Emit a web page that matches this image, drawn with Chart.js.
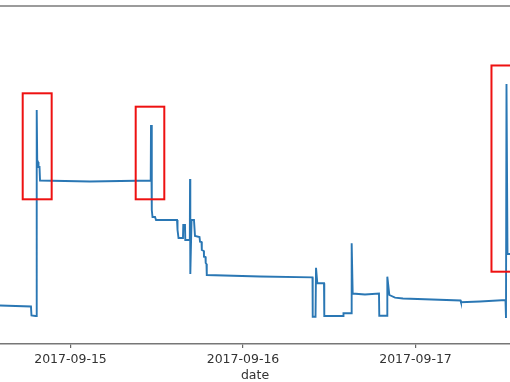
<!DOCTYPE html>
<html>
<head>
<meta charset="utf-8">
<script src="https://cdn.jsdelivr.net/npm/chart.js@4/dist/chart.umd.min.js"></script>
<style>
  html, body { margin: 0; padding: 0; background: #fff; }
  #wrap { width: 510px; height: 382px; }
</style>
</head>
<body>
<div id="wrap"><canvas id="c" width="510" height="382"></canvas></div>
<script>
// Tick labels (dates) and their positions in hours since 2017-09-15 00:00
const tickLabels = ['2017-09-15', '2017-09-16', '2017-09-17'];
const tickHours = [0, 24, 48];

// Series: time (hours since 2017-09-15 00:00) and value (arbitrary units)
const hours = [
  -9.81, -5.50, -5.43, -4.87, -4.73, -4.70, -4.63, -4.52, -4.45, -4.31,
  -4.24, 2.71, 11.16, 11.20, 11.31, 11.41, 11.76, 11.90, 14.82, 14.89,
  15.03, 15.65, 15.69, 15.93, 15.97, 16.60, 16.63, 16.67, 16.84, 17.18,
  17.32, 17.95, 18.02, 18.23, 18.27, 18.55, 18.57, 18.78, 18.81, 18.92,
  18.96, 26.37, 33.67, 33.70, 34.09, 34.16, 34.34, 35.27, 35.31, 37.96,
  37.98, 39.10, 39.12, 39.26, 40.97, 42.92, 42.96, 44.04, 44.08, 44.36,
  45.15, 46.26, 54.26, 54.33, 56.97, 60.52, 60.59, 60.66, 60.80, 61.43
];
const values = [
  11.39, 11.09, 8.43, 8.28, 8.28, 69.23, 54.44, 53.85, 52.37, 52.37,
  48.37, 48.08, 48.37, 64.79, 39.64, 37.57, 37.57, 36.69, 36.69, 33.73,
  31.36, 31.36, 35.21, 35.21, 30.77, 30.77, 48.82, 20.71, 36.69, 36.69,
  31.95, 31.66, 30.27, 30.18, 27.81, 27.51, 25.83, 25.74, 23.96, 23.67,
  20.41, 19.97, 19.73, 8.08, 8.08, 22.57, 17.96, 17.96, 8.28, 8.28,
  9.08, 9.08, 29.79, 14.94, 14.64, 14.94, 8.37, 8.37, 19.91, 14.50,
  13.70, 13.46, 12.87, 12.34, 12.57, 13.02, 7.69, 76.92, 26.63, 26.63
];

// Highlight boxes (data units)
const boxStart = [-6.65, 9.07, 58.57];
const boxEnd   = [-2.62, 13.05, 62.60];
const boxTop   = [74.17, 70.21, 82.40];
const boxBottom= [42.81, 42.81, 21.39];

const points = hours.map((h, i) => ({ x: h, y: values[i] }));

const framePlugin = {
  id: 'frame',
  afterDatasetsDraw(chart) {
    const { ctx, chartArea, scales } = chart;
    const xs = scales.x, ys = scales.y;
    ctx.save();
    // top spine
    ctx.strokeStyle = '#7a7a7a';
    ctx.lineWidth = 1.6;
    ctx.beginPath();
    ctx.moveTo(chartArea.left, chartArea.top);
    ctx.lineTo(chartArea.right, chartArea.top);
    ctx.stroke();
    // red boxes
    ctx.strokeStyle = '#ee1111';
    ctx.lineWidth = 2;
    for (let i = 0; i < boxStart.length; i++) {
      const x0 = xs.getPixelForValue(boxStart[i]);
      const x1 = xs.getPixelForValue(boxEnd[i]);
      const y0 = ys.getPixelForValue(boxTop[i]);
      const y1 = ys.getPixelForValue(boxBottom[i]);
      ctx.strokeRect(x0, y0, x1 - x0, y1 - y0);
    }
    ctx.restore();
  }
};

new Chart(document.getElementById('c'), {
  type: 'line',
  data: {
    datasets: [{
      data: points,
      borderColor: '#2a77b4',
      borderWidth: 1.9,
      pointRadius: 0,
      tension: 0,
      fill: false
    }]
  },
  options: {
    responsive: false,
    devicePixelRatio: 1,
    animation: false,
    events: [],
    layout: { padding: { top: 6, left: 0, right: 0, bottom: 0 } },
    plugins: { legend: { display: false }, tooltip: { enabled: false } },
    scales: {
      x: {
        type: 'linear',
        min: -9.809,
        max: 61.148,
        afterBuildTicks(scale) {
          scale.ticks = tickHours.map(v => ({ value: v }));
        },
        afterFit(scale) { scale.height = 38; },
        ticks: {
          autoSkip: false,
          maxRotation: 0,
          padding: 4,
          color: '#333',
          font: { family: 'DejaVu Sans', size: 12.5 },
          callback(value) {
            const i = tickHours.indexOf(value);
            return i >= 0 ? tickLabels[i] : '';
          }
        },
        grid: { display: true, drawOnChartArea: false, drawTicks: true, tickLength: 4, color: '#666', lineWidth: 1.2 },
        border: { display: true, color: '#777', width: 1.6 },
        title: {
          display: true,
          text: 'date',
          color: '#333',
          font: { family: 'DejaVu Sans', size: 12.5, lineHeight: 1.0 },
          padding: { top: 0, bottom: 0 }
        }
      },
      y: {
        display: false,
        min: 0,
        max: 100
      }
    }
  },
  plugins: [framePlugin]
});
</script>
</body>
</html>
